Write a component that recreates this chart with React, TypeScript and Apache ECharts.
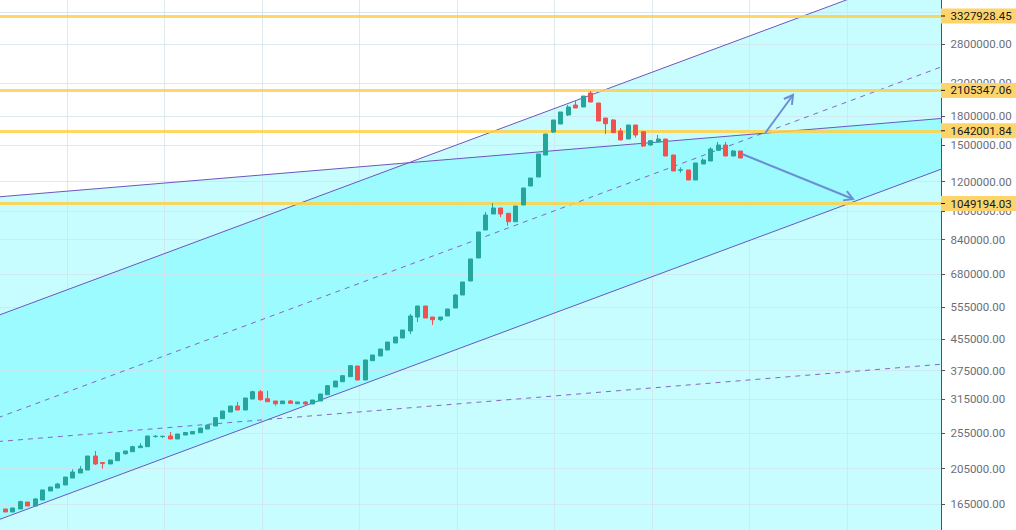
import React, { useEffect, useRef } from "react";
import * as echarts from "echarts";

// weekly candles, index 0..99 : [open, close, low, high]
const CANDLES: number[][] = [
  [162500, 159000, 158500, 163000],
  [160000, 157100, 157100, 160000],
  [157100, 161000, 157100, 161000],
  [160000, 167400, 160000, 168400],
  [167000, 163000, 163000, 167000],
  [163000, 170200, 163000, 171200],
  [169100, 179900, 169100, 179900],
  [178800, 183200, 178800, 183200],
  [182100, 186600, 182100, 187800],
  [185500, 194800, 185500, 194800],
  [193600, 200900, 193600, 204300],
  [199700, 204700, 199700, 208500],
  [203400, 221700, 203400, 221700],
  [221700, 211100, 209800, 228700],
  [213000, 211700, 205100, 213700],
  [211100, 216300, 211100, 216300],
  [215400, 226300, 215400, 226300],
  [224900, 228700, 223500, 228700],
  [227700, 234800, 227700, 236200],
  [233400, 235800, 233400, 239800],
  [234800, 250800, 234800, 250800],
  [249900, 250500, 248200, 252300],
  [249900, 250500, 247700, 250800],
  [250800, 246200, 246200, 257000],
  [246200, 253900, 246200, 253900],
  [252300, 256200, 252300, 256600],
  [253900, 257800, 253900, 258600],
  [255900, 263400, 255900, 263900],
  [261800, 268300, 261800, 268300],
  [266700, 280700, 266700, 280700],
  [279000, 292500, 279000, 292500],
  [290700, 301600, 290700, 301600],
  [301600, 294300, 294300, 309200],
  [294300, 316900, 294300, 316900],
  [314900, 329400, 314900, 331400],
  [329400, 313600, 311600, 332900],
  [315500, 309700, 309700, 331400],
  [311100, 305900, 302200, 311100],
  [305900, 311100, 305900, 311100],
  [311100, 306700, 306700, 313000],
  [305900, 309200, 305900, 309200],
  [309200, 305400, 303500, 311100],
  [305400, 313000, 305400, 313000],
  [311100, 324800, 311100, 324800],
  [323400, 341800, 323400, 343300],
  [339100, 351800, 339100, 351800],
  [350300, 363500, 350300, 365100],
  [361300, 386600, 361300, 386600],
  [385900, 354000, 354000, 385900],
  [354000, 400400, 354000, 400400],
  [398700, 412900, 398700, 412900],
  [410400, 428400, 410400, 428400],
  [425800, 447300, 425800, 447300],
  [444600, 461300, 444600, 461300],
  [458500, 481600, 458500, 481600],
  [478600, 525000, 469900, 531500],
  [521700, 558300, 505900, 558300],
  [558300, 518500, 518500, 558300],
  [521700, 513100, 496700, 521700],
  [513100, 521700, 509000, 521700],
  [525000, 548100, 525000, 548100],
  [551400, 597400, 551400, 601100],
  [597400, 647200, 597400, 647200],
  [651200, 745600, 651200, 745600],
  [750200, 880400, 750200, 880400],
  [891300, 977500, 891300, 995800],
  [983600, 1020600, 983600, 1052500],
  [1020600, 983600, 965600, 1020600],
  [987800, 938000, 915200, 987800],
  [938000, 1033200, 938000, 1033200],
  [1039600, 1154300, 1039600, 1154300],
  [1168600, 1227600, 1168600, 1227600],
  [1235200, 1423100, 1235200, 1423100],
  [1414300, 1609500, 1414300, 1609500],
  [1629400, 1754400, 1619400, 1754400],
  [1711700, 1842900, 1711700, 1842900],
  [1809200, 1900500, 1798100, 1924100],
  [1924100, 1888900, 1888900, 1972000],
  [1900500, 2033700, 1900500, 2033700],
  [2071600, 1959900, 1959900, 2097200],
  [1947900, 1743600, 1743600, 1947900],
  [1776100, 1714800, 1609500, 1776100],
  [1754400, 1622400, 1622400, 1765200],
  [1639500, 1551100, 1551100, 1670100],
  [1560700, 1701200, 1560700, 1701200],
  [1701200, 1599600, 1573300, 1701200],
  [1632500, 1494900, 1485700, 1632500],
  [1504100, 1544500, 1497700, 1551100],
  [1532200, 1560700, 1532200, 1599600],
  [1560700, 1405600, 1405600, 1560700],
  [1414300, 1281700, 1281700, 1414300],
  [1288000, 1291200, 1268300, 1311200],
  [1289600, 1212600, 1212600, 1289600],
  [1212600, 1346400, 1212600, 1346400],
  [1338100, 1371400, 1338100, 1385900],
  [1363000, 1467500, 1363000, 1483000],
  [1455800, 1504100, 1455800, 1532200],
  [1504100, 1405600, 1405600, 1532200],
  [1405600, 1449600, 1405600, 1458500],
  [1449600, 1388400, 1388400, 1449600],
];

// horizontal price levels
const PRICE_LEVELS = [3327928.45, 2105347.06, 1642001.84, 1049194.03];

// price-scale ticks (log scale)
const Y_TICKS = [165000, 205000, 255000, 315000, 375000, 455000, 555000, 680000, 840000, 1000000, 1200000, 1500000, 1800000, 2200000, 2800000, 3400000];
const Y_LABELS = [165000, 205000, 255000, 315000, 375000, 455000, 555000, 680000, 840000, 1000000, 1200000, 1500000, 1800000, 2200000, 2800000];
// vertical grid lines (bar index)
const X_GRID = [9.2, 22.2, 35.2, 48.2, 61.2, 74.2, 87.2, 100.2, 113.2];

// channels: [barIndex, price]
const STEEP_UPPER = [[0, 526550], [126, 4583300]];
const STEEP_MID = [[0, 280590], [126, 2442400]];
const STEEP_LOWER = [[0, 149520], [126, 1301500]];
const FLAT_UPPER = [[0, 1092750], [126, 1772400]];
const FLAT_MID = [[0, 242340], [126, 390470]];
const FLAT_LOWER = [[0, 53744], [126, 86023]];

// arrows: [fromIndex, fromPrice, toIndex, toPrice]
const ARROWS = [
  [102.3, 1619600, 106.0, 2046700],
  [99.2, 1423000, 114.0, 1078800],
];

const X_MIN = 0.2667;
const X_MAX = 125.7333;
const Y_MIN = 140600;
const Y_MAX = 3672400;

const UP = "#26a69a";
const DOWN = "#ef5350";
const FILL = "rgba(0, 245, 255, 0.22)";
const CH_SOLID = "#6e55c0";
const CH_DASH = "#8a65c4";
const ARROW_COLOR = "#6c8ed6";
const FONT = "Roboto, 'Liberation Sans', sans-serif";

function fillSeries(upper: number[][], lower: number[][]) {
  return {
    type: "custom",
    coordinateSystem: "cartesian2d",
    clip: true,
    silent: true,
    z: 0,
    data: [[60, upper[0][1]]],
    renderItem: (_p: any, api: any) => {
      const pts = [
        api.coord(upper[0]),
        api.coord(upper[1]),
        api.coord(lower[1]),
        api.coord(lower[0]),
      ];
      return { type: "polygon", shape: { points: pts }, style: { fill: FILL } };
    },
  };
}

function lineSeries(data: number[][], color: string, dashed: boolean) {
  return {
    type: "line",
    data,
    symbol: "none",
    silent: true,
    clip: true,
    z: 3,
    lineStyle: { color, width: 1, type: dashed ? [5, 5] : "solid" },
  };
}

export default function App() {
  const ref = useRef<HTMLDivElement>(null);

  useEffect(() => {
    if (!ref.current) return;
    const chart = echarts.init(ref.current, undefined, { renderer: "svg" });

    const option: any = {
      animation: false,
      backgroundColor: "#ffffff",
      grid: { left: 0, right: 75, top: 0, bottom: 0, containLabel: false },
      xAxis: {
        type: "value",
        min: X_MIN,
        max: X_MAX,
        z: 1,
        axisLine: { show: false },
        axisLabel: { show: false },
        axisTick: { show: false, customValues: X_GRID },
        splitLine: { show: true, lineStyle: { color: "rgba(210,225,234,0.75)", width: 1 } },
      },
      yAxis: {
        type: "log",
        position: "right",
        min: Y_MIN,
        max: Y_MAX,
        z: 1,
        axisLine: { show: true, lineStyle: { color: "#50535e", width: 1 } },
        axisTick: { show: true, length: 4, customValues: Y_TICKS, lineStyle: { color: "#50535e" } },
        axisLabel: {
          customValues: Y_LABELS,
          margin: 9.5,
          color: "#6b6e78",
          fontSize: 11.5,
          fontFamily: FONT,
          formatter: (v: number) => Number(v).toFixed(2),
        },
        splitLine: { show: true, lineStyle: { color: "rgba(210,225,234,0.75)", width: 1 } },
      },
      series: [
        fillSeries(STEEP_UPPER, STEEP_LOWER),
        fillSeries(FLAT_UPPER, FLAT_LOWER),
        lineSeries(STEEP_UPPER, CH_SOLID, false),
        lineSeries(STEEP_LOWER, CH_SOLID, false),
        lineSeries(STEEP_MID, CH_DASH, true),
        lineSeries(FLAT_UPPER, CH_SOLID, false),
        lineSeries(FLAT_MID, CH_DASH, true),
        {
          type: "line",
          data: [],
          z: 4,
          markLine: {
            silent: true,
            symbol: "none",
            animation: false,
            lineStyle: { color: "rgba(255, 208, 70, 0.85)", width: 3, type: "solid" },
            label: {
              show: true,
              position: "end",
              distance: 0,
              formatter: (p: any) => "{t|}{v|" + Number(p.value).toFixed(2) + "}",
              backgroundColor: "#fdd46a",
              color: "#131722",
              fontSize: 11.5,
              fontFamily: FONT,
              lineHeight: 13,
              padding: [1, 10, 1, 0],
              rich: {
                t: { width: 4, height: 1, lineHeight: 13, backgroundColor: "#131722" },
                v: { color: "#131722", fontSize: 11.5, fontFamily: FONT, lineHeight: 13, padding: [0, 0, 0, 5.5] },
              },
            },
            data: PRICE_LEVELS.map((v) => ({ yAxis: v })),
          },
        },
        {
          type: "candlestick",
          z: 5,
          barWidth: 4.5,
          encode: { x: 0, y: [1, 2, 3, 4] },
          data: CANDLES.map((c, i) => [i, c[0], c[1], c[2], c[3]]),
          itemStyle: {
            color: UP,
            color0: DOWN,
            borderColor: UP,
            borderColor0: DOWN,
            borderWidth: 1,
          },
        },
        {
          type: "custom",
          coordinateSystem: "cartesian2d",
          clip: true,
          silent: true,
          z: 6,
          encode: { x: [0, 2], y: [1, 3] },
          data: ARROWS,
          renderItem: (_p: any, api: any) => {
            const s = api.coord([api.value(0), api.value(1)]);
            const e = api.coord([api.value(2), api.value(3)]);
            const dx = e[0] - s[0];
            const dy = e[1] - s[1];
            const len = Math.hypot(dx, dy) || 1;
            const ux = dx / len;
            const uy = dy / len;
            const L = 10;
            const a = Math.PI / 6;
            const rot = (ang: number) => [
              ux * Math.cos(ang) - uy * Math.sin(ang),
              ux * Math.sin(ang) + uy * Math.cos(ang),
            ];
            const r1 = rot(a);
            const r2 = rot(-a);
            const p1 = [e[0] - L * r1[0], e[1] - L * r1[1]];
            const p2 = [e[0] - L * r2[0], e[1] - L * r2[1]];
            return {
              type: "group",
              children: [
                {
                  type: "line",
                  shape: { x1: s[0], y1: s[1], x2: e[0], y2: e[1] },
                  style: { stroke: ARROW_COLOR, lineWidth: 2 },
                },
                {
                  type: "polyline",
                  shape: { points: [p1, e, p2] },
                  style: { stroke: ARROW_COLOR, lineWidth: 2, fill: "none" },
                },
              ],
            };
          },
        },
      ],
    };

    chart.setOption(option);
    return () => chart.dispose();
  }, []);

  return (
    <div
      ref={ref}
      style={{ position: "fixed", left: 0, top: 0, width: 1016, height: 530, background: "#fff" }}
    />
  );
}
